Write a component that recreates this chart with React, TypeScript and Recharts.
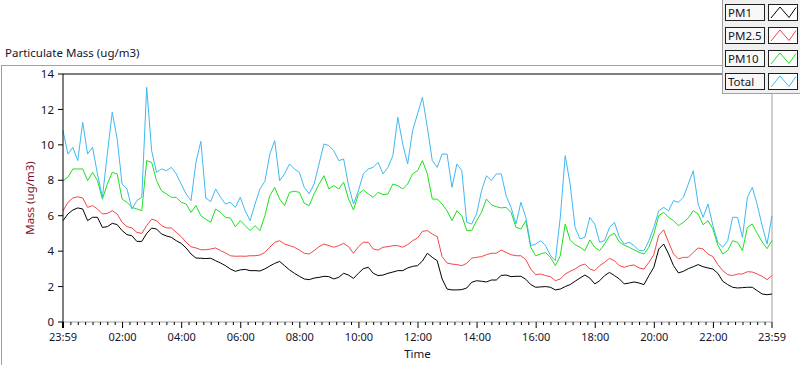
import { LineChart, Line, XAxis, YAxis, ReferenceLine, Legend } from "recharts"

// samples every 10 minutes, starting 23:59 the previous day
const SAMPLE_MINUTES = 10

const PM1 = [
  5.72, 6.10, 6.32, 6.44, 6.38, 5.72, 5.91, 5.91, 5.34, 5.38, 5.57, 5.50, 5.16, 4.93, 4.87, 4.55, 4.55, 5.00, 5.30, 5.25, 4.97, 4.86, 4.78, 4.59, 4.44, 4.18, 3.84, 3.61, 3.60,
  3.58, 3.60, 3.46, 3.33, 3.18, 2.99, 2.86, 2.94, 2.97, 2.90, 2.90, 2.88, 3.00, 3.16, 3.31, 3.42, 3.18, 2.94, 2.75, 2.58, 2.43, 2.39, 2.48, 2.52, 2.58, 2.56, 2.43, 2.52, 2.75,
  2.65, 2.46, 2.75, 3.01, 3.09, 2.75, 2.62, 2.65, 2.75, 2.82, 2.90, 2.90, 3.05, 3.14, 3.18, 3.44, 3.88, 3.65, 3.46, 2.43, 1.86, 1.81, 1.81, 1.83, 1.92, 2.24, 2.33, 2.30, 2.26,
  2.37, 2.37, 2.63, 2.65, 2.56, 2.58, 2.58, 2.41, 2.11, 1.96, 1.98, 2.00, 1.96, 1.81, 1.86, 2.00, 2.11, 2.30, 2.48, 2.65, 2.48, 2.15, 2.33, 2.62, 2.80, 2.62, 2.43, 2.15, 2.20,
  2.26, 2.20, 2.11, 2.62, 3.09, 4.12, 4.40, 3.84, 3.18, 2.77, 2.86, 3.01, 3.12, 3.24, 3.12, 3.05, 2.99, 2.75, 2.30, 2.11, 1.96, 1.92, 1.94, 1.96, 1.96, 1.77, 1.58, 1.54, 1.58,
]

const PM25 = [
  6.28, 6.75, 7.00, 7.07, 7.00, 6.47, 6.57, 6.38, 6.10, 6.13, 6.28, 6.10, 5.63, 5.38, 5.31, 5.06, 5.00, 5.44, 5.81, 5.72, 5.44, 5.31, 5.31, 5.06, 4.82, 4.50, 4.25, 4.18, 4.08,
  4.08, 4.12, 4.18, 4.03, 3.90, 3.74, 3.71, 3.72, 3.71, 3.74, 3.74, 3.78, 3.93, 4.22, 4.50, 4.59, 4.40, 4.31, 4.22, 4.06, 3.88, 3.84, 4.03, 4.25, 4.40, 4.31, 4.22, 4.31, 4.44,
  4.25, 3.88, 4.25, 4.50, 4.50, 4.12, 4.06, 4.22, 4.25, 4.31, 4.31, 4.22, 4.37, 4.59, 4.74, 5.12, 5.16, 4.97, 4.82, 3.69, 3.33, 3.27, 3.24, 3.18, 3.31, 3.61, 3.65, 3.69, 3.80,
  3.88, 3.88, 4.06, 3.93, 3.80, 3.74, 3.74, 3.52, 2.99, 2.67, 2.71, 2.62, 2.56, 2.33, 2.43, 2.71, 2.86, 2.99, 3.18, 3.27, 2.99, 2.90, 3.18, 3.37, 3.59, 3.46, 3.18, 3.09, 3.18,
  3.22, 3.05, 2.99, 3.37, 3.80, 4.90, 5.20, 4.50, 3.84, 3.56, 3.65, 3.65, 3.93, 4.18, 4.12, 3.84, 3.69, 3.24, 2.90, 2.67, 2.62, 2.71, 2.71, 2.84, 2.82, 2.71, 2.58, 2.39, 2.62,
]

const PM10 = [
  7.98, 8.17, 8.64, 8.64, 8.64, 7.98, 8.45, 7.98, 6.94, 7.79, 8.45, 8.36, 6.94, 6.76, 6.47, 6.38, 6.28, 9.11, 9.01, 7.98, 7.41, 7.23, 7.04, 7.04, 6.76, 6.66, 6.19, 6.57, 6.00,
  5.80, 5.63, 6.38, 6.19, 5.91, 5.87, 5.38, 5.72, 5.44, 5.16, 5.44, 5.16, 6.00, 7.13, 7.60, 6.94, 6.57, 7.32, 7.38, 7.32, 6.70, 6.57, 7.23, 7.79, 8.26, 7.51, 7.70, 7.51, 7.89,
  6.94, 6.32, 7.23, 7.45, 7.23, 7.04, 7.32, 7.19, 7.23, 7.79, 7.70, 7.51, 7.79, 8.36, 8.54, 9.11, 8.36, 6.94, 6.94, 6.66, 6.28, 5.72, 6.28, 6.00, 5.16, 5.16, 5.72, 6.19, 6.94,
  6.62, 6.51, 6.44, 6.47, 6.19, 5.34, 5.25, 5.72, 4.22, 3.74, 3.84, 3.93, 3.65, 3.18, 3.74, 5.53, 4.63, 4.37, 4.22, 4.03, 4.63, 4.22, 4.03, 4.40, 4.87, 5.00, 4.52, 4.33, 4.22,
  4.07, 3.93, 3.84, 4.22, 4.97, 6.00, 6.19, 5.91, 5.72, 5.44, 5.63, 5.87, 6.28, 6.10, 5.49, 5.72, 5.25, 4.33, 3.84, 4.03, 4.59, 4.50, 4.03, 5.34, 5.53, 5.00, 4.52, 4.14, 4.60,
]

const TOTAL = [
  10.80, 9.48, 9.86, 9.11, 11.27, 9.48, 9.86, 8.36, 7.04, 9.48, 11.84, 10.33, 7.79, 7.51, 6.38, 6.85, 7.04, 13.25, 9.67, 8.45, 8.64, 8.54, 8.73, 8.36, 7.79, 7.23, 6.85, 9.01, 10.20,
  7.00, 6.80, 7.51, 7.04, 6.66, 6.76, 6.47, 7.04, 6.28, 5.72, 6.66, 7.51, 7.94, 9.48, 10.24, 7.98, 8.36, 8.92, 8.64, 8.45, 7.60, 7.23, 7.79, 8.92, 10.05, 9.96, 9.67, 9.11, 9.20,
  7.70, 6.66, 7.41, 8.36, 8.64, 8.73, 9.01, 8.36, 8.73, 9.39, 11.55, 10.05, 8.92, 10.80, 11.74, 12.68, 10.99, 9.11, 8.73, 9.48, 9.48, 7.60, 8.92, 8.54, 5.63, 5.53, 6.10, 7.41, 8.26,
  7.98, 8.36, 8.36, 7.13, 6.47, 5.53, 6.76, 5.91, 4.31, 4.40, 4.59, 4.31, 3.76, 3.46, 5.91, 9.39, 7.79, 5.34, 4.69, 4.78, 5.91, 5.53, 4.50, 4.59, 5.34, 5.63, 4.78, 4.40, 4.50,
  4.31, 4.03, 4.03, 4.59, 5.34, 6.28, 6.47, 6.28, 6.85, 6.76, 7.04, 7.79, 8.54, 6.66, 5.91, 6.66, 5.44, 4.50, 4.22, 4.59, 5.91, 5.91, 4.78, 7.04, 7.60, 6.62, 5.44, 4.40, 6.00,
]

const X_TICKS = [0, 121, 241, 361, 481, 601, 721, 841, 961, 1081, 1201, 1321, 1440]
const X_TICK_LABELS = ["23:59", "02:00", "04:00", "06:00", "08:00", "10:00", "12:00", "14:00", "16:00", "18:00", "20:00", "22:00", "23:59"]
const Y_TICKS = [0, 2, 4, 6, 8, 10, 12, 14]

// minor ticks every 15 min between the 2 h majors
const ALL_X_TICKS = [0, ...Array.from({ length: 95 }, (_, k) => 16 + 15 * k), 1440]

const SERIES = [
  { key: "pm1", name: "PM1", color: "#000000" },
  { key: "pm25", name: "PM2.5", color: "#f24646" },
  { key: "pm10", name: "PM10", color: "#1ee01e" },
  { key: "total", name: "Total", color: "#3fb8f2" },
]

const data = PM1.map((v, i) => ({
  t: i * SAMPLE_MINUTES,
  pm1: v,
  pm25: PM25[i],
  pm10: PM10[i],
  total: TOTAL[i],
}))

const FONT = "'Noto Sans', 'Open Sans', sans-serif"
const INK = "#14142a"

function TimeTick(props: any) {
  const { x, y, payload } = props
  const i = X_TICKS.indexOf(payload.value)
  const major = i >= 0
  return (
    <g>
      <line x1={x} x2={x} y1={y} y2={y + (major ? 6 : 3)} stroke="#000" strokeWidth={i === 0 ? 2 : 1} />
      {major && (
        <text x={x} y={y + 19} textAnchor="middle" fontSize={11} fontFamily={FONT} fill={INK}>
          {X_TICK_LABELS[i]}
        </text>
      )}
    </g>
  )
}

// fixed order like the original plot legend (recharts would sort by name)
function PlotLegend() {
  return (
    <div style={{ width: 78, height: 94, background: "#f0f0f0", borderLeft: "1px solid #a0a0a0", borderBottom: "1px solid #a0a0a0", boxSizing: "border-box", position: "relative" }}>
      {SERIES.map((s, i) => (
        <div key={s.key} style={{ position: "absolute", left: 2, top: 4 + i * 23, height: 17, display: "flex" }}>
          <div style={{ width: 40, height: 17, boxSizing: "border-box", border: "1px solid #202020", background: "#f8f8f8", fontFamily: FONT, fontSize: 11.5, lineHeight: "15px", paddingLeft: 2, color: INK }}>
            {s.name}
          </div>
          <svg width={30} height={17} style={{ marginLeft: 3 }}>
            <rect x={0.5} y={0.5} width={29} height={16} fill="#fff" stroke="#202020" />
            <polyline points="3,14 12,3 21,13.5 28,3.5" fill="none" stroke={s.color} strokeWidth={1} />
          </svg>
        </div>
      ))}
    </div>
  )
}

export default function App() {
  return (
    <div style={{ position: "absolute", left: 0, top: 0, width: 800, height: 365, background: "#fff", overflow: "hidden" }}>
      <div style={{ position: "absolute", left: 5, top: 45, fontFamily: FONT, fontSize: 11.5, color: INK }}>
        Particulate Mass (ug/m3)
      </div>
      <div style={{ position: "absolute", left: 1, top: 65, width: 830, height: 299, borderTop: "1px solid #a0a0a0", borderLeft: "1px solid #a0a0a0", borderBottom: "1px solid #303030" }} />
      <div style={{ position: "absolute", left: 0, top: 0 }}>
        <LineChart width={800} height={365} data={data} margin={{ top: 74, right: 28, left: 0, bottom: 0 }}>
          <ReferenceLine y={14} stroke="#000" ifOverflow="extendDomain" />
          <ReferenceLine x={1440} stroke="#a0a0a0" />
          <XAxis
            dataKey="t" type="number" domain={[0, 1440]} ticks={ALL_X_TICKS} interval={0}
            height={43} tickSize={0} tickMargin={0} tickLine={false}
            axisLine={{ stroke: "#a0a0a0" }} tick={<TimeTick />}
            label={{ value: "Time", position: "insideBottom", offset: 7, fontSize: 11.5, fontFamily: FONT, fill: INK }}
          />
          <YAxis
            domain={[0, 14]} ticks={Y_TICKS} width={63} tickSize={5} tickMargin={4}
            axisLine={{ stroke: "#000" }} tickLine={{ stroke: "#000" }}
            tick={{ fontSize: 11.5, fontFamily: FONT, fill: INK }}
            label={{ value: "Mass (ug/m3)", angle: -90, position: "insideLeft", offset: 30, fontSize: 11.5, fontFamily: FONT, fill: "#7a1030", style: { textAnchor: "middle" } }}
          />
          <Legend
            layout="vertical" align="center" verticalAlign="middle" width={78} height={94}
            wrapperStyle={{ left: 722, top: 0 }}
            content={<PlotLegend />}
          />
          {SERIES.map((s) => (
            <Line key={s.key} dataKey={s.key} name={s.name} stroke={s.color} dot={false} strokeWidth={1} type="linear" isAnimationActive={false} />
          ))}
        </LineChart>
      </div>
    </div>
  )
}
